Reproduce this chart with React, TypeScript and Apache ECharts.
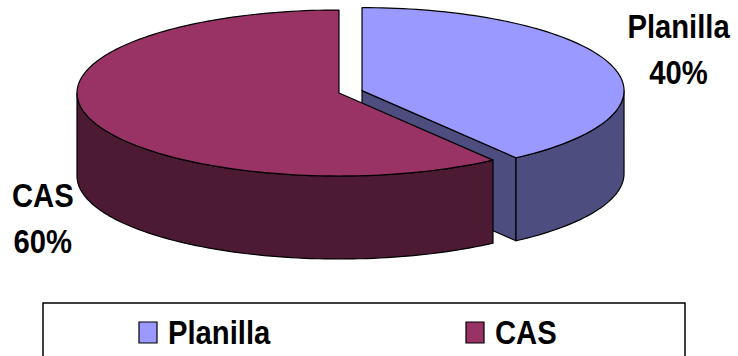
import React, { useEffect, useRef } from "react";
import * as echarts from "echarts";

// ---- data ----
const categories: string[] = ["Planilla", "CAS"];
const values: number[] = [40, 60];
const topColors: string[] = ["#9999FF", "#993366"];
const sideColors: string[] = ["#4D4D80", "#4D1A33"];
const explodedSlices: boolean[] = [true, false];

// ---- layout ----
const FONT = '"Liberation Sans", Arial, sans-serif';
const FONT_SIZE = 34;
const NARROW = 0.86; // horizontal condensing of the bold labels
const CX = 339;
const CY = 93;
const RX = 262;
const RY = 83;
const DEPTH = 83;
const EXPLODE = 0.0924;
const LABEL_R = 279;
const LABEL_RY = 135;
const LABEL_LINE = 46;

// legend box layout
const LEG_X = 43;
const LEG_Y = 303;
const LEG_W = 642;
const LEG_H = 90;
const LEG_ITEM_X = [139, 466];
const LEG_ROW_Y = 332;

const total = values.reduce((a, b) => a + b, 0);
const deg = Math.PI / 180;

function measure(text: string): number {
  const c = document.createElement("canvas").getContext("2d");
  if (!c) return text.length * 14;
  c.font = `bold ${FONT_SIZE}px ${FONT}`;
  return c.measureText(text).width * NARROW;
}

function sliceGeom(i: number) {
  let cum = 0;
  for (let k = 0; k < i; k++) cum += values[k];
  const a0 = 90 - (360 * cum) / total;
  const a1 = 90 - (360 * (cum + values[i])) / total;
  const am = (a0 + a1) / 2;
  let cx = CX;
  let cy = CY;
  if (explodedSlices[i]) {
    cx += EXPLODE * RX * Math.cos(am * deg);
    cy -= EXPLODE * RY * Math.sin(am * deg);
  }
  return { a0, a1, am, cx, cy };
}

function pt(cx: number, cy: number, a: number, dz = 0): number[] {
  return [cx + RX * Math.cos(a * deg), cy - RY * Math.sin(a * deg) + dz];
}

function arcPts(cx: number, cy: number, from: number, to: number, dz = 0): number[][] {
  const n = Math.max(2, Math.ceil(Math.abs(to - from) / 1.5));
  const out: number[][] = [];
  for (let s = 0; s <= n; s++) {
    out.push(pt(cx, cy, from + ((to - from) * s) / n, dz));
  }
  return out;
}

function boldText(text: string, x: number, y: number, align: string) {
  return {
    type: "text",
    x,
    y,
    scaleX: NARROW,
    style: {
      text,
      x: 0,
      y: 0,
      fill: "#000",
      fontSize: FONT_SIZE,
      fontWeight: "bold",
      fontFamily: FONT,
      align,
      verticalAlign: "middle",
    },
  };
}

function makeRender(i: number) {
  return function (_params: any, _api: any) {
    const { a0, a1, am, cx, cy } = sliceGeom(i);
    const children: any[] = [];
    const stroke = { stroke: "#000", lineWidth: 1.2, lineJoin: "round" };

    if (Math.cos(a1 * deg) > 1e-6) {
      children.push({
        type: "polygon",
        shape: { points: [[cx, cy], pt(cx, cy, a1), pt(cx, cy, a1, DEPTH), [cx, cy + DEPTH]] },
        style: { fill: sideColors[i], ...stroke },
      });
    }
    if (Math.cos(a0 * deg) < -1e-6) {
      children.push({
        type: "polygon",
        shape: { points: [[cx, cy], pt(cx, cy, a0), pt(cx, cy, a0, DEPTH), [cx, cy + DEPTH]] },
        style: { fill: sideColors[i], ...stroke },
      });
    }
    for (let k = -3; k <= 2; k++) {
      const lo = Math.max(a1, 180 + 360 * k);
      const hi = Math.min(a0, 360 + 360 * k);
      if (hi - lo > 1e-6) {
        const top = arcPts(cx, cy, hi, lo);
        const bot = arcPts(cx, cy, lo, hi, DEPTH);
        children.push({
          type: "polygon",
          shape: { points: top.concat(bot) },
          style: { fill: sideColors[i], ...stroke },
        });
      }
    }
    children.push({
      type: "polygon",
      shape: { points: [[cx, cy]].concat(arcPts(cx, cy, a0, a1)) },
      style: { fill: topColors[i], ...stroke },
    });

    const pct = Math.round((values[i] / total) * 100) + "%";
    const lines = [categories[i], pct];
    const w = Math.max(...lines.map(measure));
    const c = Math.cos(am * deg);
    const s = Math.sin(am * deg);
    const side = c >= 0 ? 1 : -1;
    const lx = cx + LABEL_R * c + (side * w) / 2;
    const ly = cy - LABEL_RY * s + (s < 0 ? DEPTH : 0);
    lines.forEach((t, j) => {
      children.push(boldText(t, lx, ly + (j - (lines.length - 1) / 2) * LABEL_LINE, "center"));
    });

    return { type: "group", children };
  };
}

export default function App() {
  const ref = useRef<HTMLDivElement>(null);
  useEffect(() => {
    if (!ref.current) return;
    const chart = echarts.init(ref.current, undefined, { renderer: "svg" });
    const legendEls: any[] = [
      {
        type: "rect",
        shape: { x: LEG_X, y: LEG_Y, width: LEG_W, height: LEG_H },
        style: { fill: "#fff", stroke: "#000", lineWidth: 1.5 },
      },
    ];
    categories.forEach((name, i) => {
      legendEls.push({
        type: "rect",
        shape: { x: LEG_ITEM_X[i], y: LEG_ROW_Y - 10, width: 18, height: 21 },
        style: { fill: topColors[i], stroke: "#000", lineWidth: 1.2 },
      });
      legendEls.push(boldText(name, LEG_ITEM_X[i] + 29, LEG_ROW_Y, "left"));
    });
    chart.setOption({
      animation: false,
      backgroundColor: "#fff",
      graphic: legendEls,
      series: categories.map((name, i) => ({
        type: "custom",
        name,
        coordinateSystem: "none",
        itemStyle: { color: topColors[i] },
        data: [[values[i]]],
        renderItem: makeRender(i),
      })),
    });
    return () => chart.dispose();
  }, []);
  return (
    <div
      ref={ref}
      style={{ position: "fixed", left: 0, top: 0, width: 738, height: 356 }}
    />
  );
}
